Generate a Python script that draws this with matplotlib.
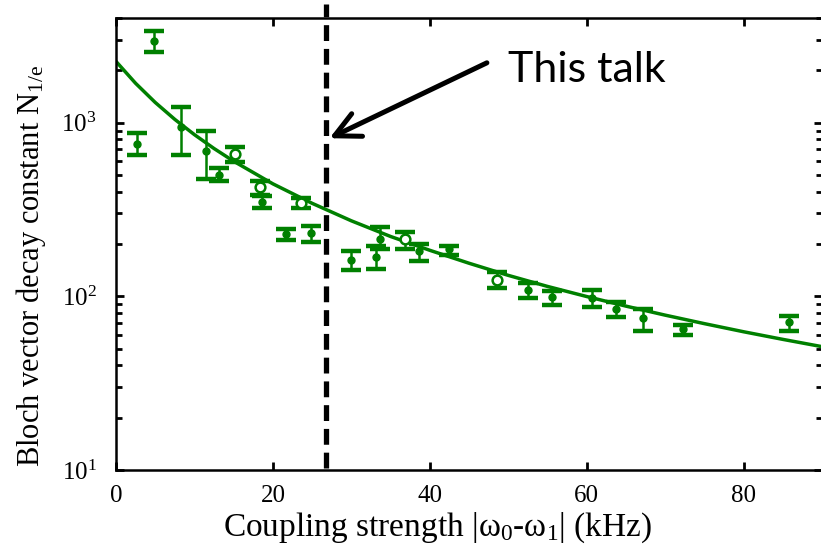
import numpy as np
import matplotlib
matplotlib.use("Agg")
import matplotlib.pyplot as plt

plt.rcParams['font.family'] = ['Liberation Serif', 'DejaVu Serif']
plt.rcParams['mathtext.fontset'] = 'custom'
plt.rcParams['mathtext.rm'] = 'Liberation Serif'
plt.rcParams['mathtext.it'] = 'Liberation Serif:italic'

green = '#008000'

# filled points: coupling (kHz), N_1/e, error bar low / high
x_fill = [2.7, 4.8, 8.25, 11.5, 13.1, 18.6, 21.7, 24.8, 29.9, 33.2, 33.6, 38.6,
          42.5, 52.5, 55.6, 60.7, 63.8, 67.2, 72.3, 85.8]
y_fill = [749, 2960, 949, 684, 502, 349, 227, 232, 162, 169, 213, 182,
          186, 108, 99, 97.5, 84.9, 74.8, 64.6, 71.1]
lo_fill = [655, 2560, 655, 476, 464, 321, 210, 205, 142, 143, 186, 160,
           174, 97.5, 88.7, 86.9, 75.5, 63, 60, 63]
hi_fill = [876, 3380, 1235, 891, 545, 377, 243, 253, 182, 195, 250, 199,
           196, 120, 107, 109, 92.7, 84.9, 68.1, 77.1]

# open points
x_open = [15.2, 18.4, 23.6, 36.9, 48.6]
y_open = [661, 425, 345, 213, 124]
lo_open = [594, 385, 324, 186, 111]
hi_open = [725, 464, 366, 234, 138]

# fitted curve
x_fit = [0, 2.5, 5, 7.5, 10, 12.5, 15, 20, 25, 30, 35, 40, 45, 50, 55, 60, 65,
         70, 75, 80, 85, 90]
y_fit = [2250, 1683, 1306, 1043, 852, 709, 599, 444, 343, 272, 221, 184, 155,
         132, 114, 99.7, 87.8, 77.9, 69.6, 62.5, 56.5, 51.3]

x_talk = 26.75

fig = plt.figure(figsize=(8.21, 5.5), dpi=100)
ax = fig.add_axes([116/821, 80/550, 706/821, 452/550])

ax.plot(x_fit, y_fit, color=green, lw=2.5, zorder=2)

yf = np.array(y_fill)
ax.errorbar(x_fill, y_fill, yerr=[yf - np.array(lo_fill), np.array(hi_fill) - yf],
            fmt='o', color=green, ms=5, elinewidth=1.8, capsize=7, capthick=3.2, zorder=3)
yo = np.array(y_open)
ax.errorbar(x_open, y_open, yerr=[yo - np.array(lo_open), np.array(hi_open) - yo],
            fmt='none', ecolor=green, elinewidth=1.8, capsize=7, capthick=3.2, zorder=3)
ax.plot(x_open, y_open, 'o', color=green, mfc='white', mec=green, mew=1.8, ms=7,
        ls='none', zorder=4)

# "this talk" line
ln, = ax.plot([x_talk, x_talk], [10.3, 4800], color='black', lw=3.8, clip_on=False, zorder=5)
ln.set_dashes((3, 1.5))

ax.annotate('', xy=(26.9, 800), xytext=(47.6, 2244),
            arrowprops=dict(arrowstyle='->,head_length=0.9,head_width=0.45',
                            color='black', lw=3.6, mutation_scale=20))
ax.text(50.0, 1720, 'This talk', family=['Lato', 'DejaVu Sans'], fontsize=31,
        ha='left', va='baseline')

ax.set_yscale('log')
ax.set_xlim(0, 90)
ax.set_ylim(10, 4000)
ax.set_xticks([0, 20, 40, 60, 80])
ax.set_xticklabels(['0', '20', '40', '60', '80'], family='Liberation Serif')
ax.set_yticks([10, 100, 1000])
ax.set_yticklabels([r'$\mathregular{10^1}$', r'$\mathregular{10^2}$', r'$\mathregular{10^3}$'])

ax.tick_params(which='both', direction='in', top=True, right=True, labelsize=18, width=2)
ax.tick_params(which='major', length=6)
ax.tick_params(which='minor', length=4)
ax.tick_params(axis='x', pad=11)
ax.tick_params(axis='y', pad=14)
for s in ax.spines.values():
    s.set_linewidth(1.8)

ax.set_xlabel(r'Coupling strength |ω$_0$-ω$_1$| (kHz)', fontsize=24)
ax.xaxis.set_label_coords(0.455, -0.09)
ax.set_ylabel(r'Bloch vector decay constant N$\mathregular{_{1/e}}$', fontsize=22)
ax.yaxis.set_label_coords(-0.096, 0.452)

fig.savefig('out.png', dpi=100)
